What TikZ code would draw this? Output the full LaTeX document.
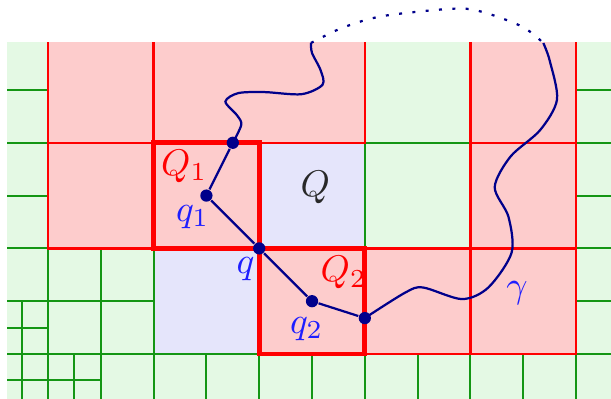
\documentclass[tikz,border=0pt]{standalone}
\usepackage{xcolor}
\usepackage{tikz}
\usetikzlibrary{positioning,calc}
\definecolor{cellgreen}{RGB}{228,249,228}
\definecolor{cellred}{RGB}{253,204,204}
\definecolor{cellblue}{RGB}{229,229,251}
\definecolor{linegreen}{RGB}{20,150,20}
\definecolor{curveblue}{RGB}{0,0,139}
\definecolor{labelblue}{RGB}{30,30,255}
\definecolor{labelgray}{RGB}{40,40,40}
\tikzset{
    gridline/.style={
        draw=linegreen,
        line width=0.55pt
    },
    redline/.style={
        draw=red,
        line width=0.6pt
    },
    cubeborder/.style={
        draw=red,
        line width=1.3pt
    },
    curve/.style={
        draw=curveblue,
        line width=0.6pt
    },
    curvedots/.style={
        draw=curveblue,
        line width=0.6pt,
        dash pattern=on 0.8pt off 2.8pt
    },
    point/.style={
        circle,
        fill=curveblue,
        inner sep=0pt,
        minimum size=3.3pt
    },
    cubelabel/.style={
        text=red
    },
    ptlabel/.style={
        text=labelblue
    }
}

\begin{document}
\begin{tikzpicture}
\useasboundingbox (-0.4545,-0.4167) rectangle (5.331,3.352);

\begin{scope}
\clip (-0.388,-0.42) rectangle (5.34,2.945);
% cells
\fill[cellgreen] (-1,-1) rectangle (6,3);
\foreach \c in {(2,1),(1,0)}
    \fill[cellblue] \c rectangle ++(1,1);

% dyadic grid
\foreach \x in {-1,...,6}
    \draw[gridline] (\x,-1) -- (\x,4);
\foreach \y in {-1,...,3}
    \draw[gridline] (-1,\y) -- (7,\y);
\foreach \y in {0.5,1.5,2.5} {
    \draw[gridline] (-1,\y) -- (0,\y);
    \draw[gridline] (5,\y) -- (6,\y);
}
\draw[gridline] (0,0.5) -- (1,0.5);
\draw[gridline] (0.5,-1) -- (0.5,1);
\foreach \x in {1.5,2.5,3.5,4.5}
    \draw[gridline] (\x,-1) -- (\x,0);
\draw[gridline] (-0.25,-0.5) -- (-0.25,0.5);
\draw[gridline] (-0.5,0.25) -- (0,0.25);
\draw[gridline] (-0.5,-0.25) -- (0.5,-0.25);
\draw[gridline] (0.25,-0.5) -- (0.25,0);

% red cells
\foreach \c in {(0,2),(1,2),(2,2),(4,2),(0,1),(1,1),(4,1),(2,0),(3,0),(4,0)}
    \fill[cellred] \c rectangle ++(1,1);
\foreach \c in {(0,2),(4,2),(0,1),(1,1),(4,1),(2,0),(3,0),(4,0)}
    \draw[redline] \c rectangle ++(1,1);
\draw[redline] (1,2) rectangle (3,3);
\end{scope}

% Q1 and Q2
\draw[cubeborder] (1,1) rectangle (2,2);
\draw[cubeborder] (2,0) rectangle (3,1);

% points on gamma
\node[point] (a) at (1.75,2) {};
\node[point] (q1) at (1.5,1.5) {};
\node[point] (q) at (2,1) {};
\node[point] (q2) at (2.5,0.5) {};
\node[point] (b) at (3,0.34) {};
\coordinate (top1) at (2.49,2.945);
\coordinate (top2) at (4.69,2.945);

% gamma
\draw[curve] plot[smooth] coordinates {(a.center) (1.83,2.17) (1.79,2.26) (1.68,2.39) (1.80,2.47) (2.05,2.48) (2.40,2.46) (2.60,2.55) (2.58,2.69) (2.50,2.85) (top1)};
\draw[curve] (a) -- (q1) -- (q) -- (q2) -- (b);
\draw[curve] plot[smooth] coordinates {(b.center) (3.38,0.58) (3.55,0.63) (3.92,0.52) (4.17,0.63) (4.39,0.96) (4.36,1.30) (4.23,1.58) (4.38,1.87) (4.66,2.12) (4.82,2.41) (4.75,2.78) (top2)};
\draw[curvedots] plot[smooth] coordinates {(top1) (2.79,3.09) (3.17,3.20) (3.84,3.27) (4.11,3.24) (4.49,3.10) (top2)};

% labels
\node[cubelabel] (lQ1) at (1.29,1.78) {$Q_1$};
\node[cubelabel] (lQ2) at (2.80,0.77) {$Q_2$};
\node[text=labelgray] (lQ) at (2.53,1.58) {$Q$};
\node[ptlabel] (lq1) at (1.37,1.30) {$q_1$};
\node[ptlabel] (lq) at (1.87,0.80) {$q$};
\node[ptlabel] (lq2) at (2.45,0.24) {$q_2$};
\node[ptlabel] (lgamma) at (4.44,0.58) {$\gamma$};
\end{tikzpicture}
\end{document}
